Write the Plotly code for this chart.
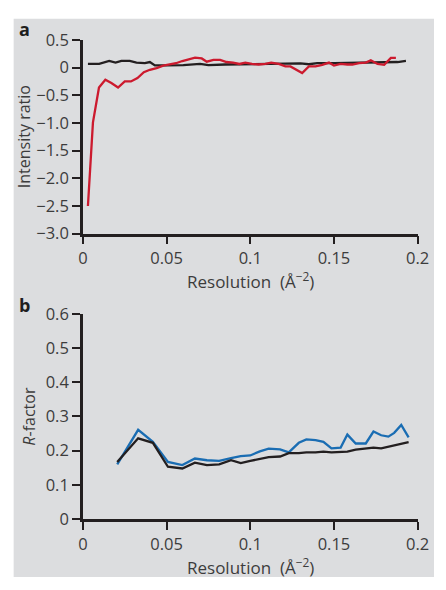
import plotly.graph_objects as go

# Panel a: intensity ratio
a_red_x = [0.003, 0.006, 0.0096, 0.0134, 0.017, 0.021, 0.025, 0.0287, 0.0326, 0.0364, 0.040, 0.044,
           0.048, 0.052, 0.0556, 0.0594, 0.063, 0.067, 0.071, 0.074, 0.078, 0.082, 0.0858, 0.0897,
           0.0935, 0.097, 0.101, 0.105, 0.109, 0.1125, 0.117, 0.121, 0.124, 0.127, 0.131, 0.135,
           0.139, 0.143, 0.147, 0.150, 0.154, 0.158, 0.161, 0.165, 0.169, 0.172, 0.176, 0.180,
           0.184, 0.187]
a_red_y = [-2.5, -0.99, -0.36, -0.22, -0.28, -0.36, -0.25, -0.25, -0.19, -0.085, -0.04, -0.01,
           0.036, 0.06, 0.078, 0.118, 0.15, 0.18, 0.165, 0.106, 0.14, 0.14, 0.10, 0.09,
           0.065, 0.09, 0.065, 0.055, 0.065, 0.09, 0.065, 0.02, 0.02, -0.025, -0.10, 0.02,
           0.02, 0.05, 0.09, 0.036, 0.065, 0.055, 0.055, 0.08, 0.09, 0.13, 0.065, 0.05,
           0.175, 0.175]
a_blk_x = [0.003, 0.0097, 0.0157, 0.0195, 0.023, 0.028, 0.032, 0.037, 0.040, 0.043, 0.050, 0.060,
           0.070, 0.075, 0.085, 0.095, 0.105, 0.110, 0.115, 0.125, 0.130, 0.135, 0.140, 0.150,
           0.160, 0.170, 0.180, 0.188, 0.193]
a_blk_y = [0.066, 0.066, 0.12, 0.09, 0.12, 0.12, 0.09, 0.08, 0.10, 0.04, 0.04, 0.045,
           0.065, 0.045, 0.055, 0.06, 0.065, 0.07, 0.08, 0.08, 0.075, 0.06, 0.08, 0.08,
           0.085, 0.085, 0.09, 0.10, 0.12]

# Panel b: R-factor
b_x = [0.0205, 0.033, 0.0418, 0.0508, 0.0594, 0.0669, 0.0741, 0.0814, 0.0885, 0.0943, 0.100,
       0.1057, 0.111, 0.1178, 0.123, 0.129, 0.1335, 0.139, 0.1437, 0.1485, 0.154, 0.158, 0.163,
       0.169, 0.1736, 0.1782, 0.1825, 0.186, 0.1902, 0.1946]
b_blue = [0.160, 0.261, 0.226, 0.167, 0.158, 0.177, 0.172, 0.170, 0.178, 0.184, 0.186,
          0.198, 0.206, 0.204, 0.195, 0.223, 0.233, 0.231, 0.226, 0.207, 0.209, 0.247, 0.221,
          0.221, 0.256, 0.245, 0.241, 0.252, 0.275, 0.239]
b_black = [0.167, 0.236, 0.223, 0.153, 0.148, 0.165, 0.158, 0.160, 0.172, 0.164, 0.170,
           0.176, 0.181, 0.183, 0.193, 0.193, 0.195, 0.195, 0.197, 0.195, 0.197, 0.197, 0.203,
           0.207, 0.209, 0.207, 0.212, 0.214, 0.219, 0.225]

x_ticks = [0, 0.05, 0.1, 0.15, 0.2]
x_tick_text = ["0", "0.05", "0.1", "0.15", "0.2"]
a_ticks = [0.5, 0, -0.5, -1.0, -1.5, -2.0, -2.5, -3.0]
a_tick_text = ["0.5", "0", "\u22120.5", "\u22121.0", "\u22121.5", "\u22122.0", "\u22122.5", "\u22123.0"]
b_ticks = [0, 0.1, 0.2, 0.3, 0.4, 0.5, 0.6]
b_tick_text = ["0", "0.1", "0.2", "0.3", "0.4", "0.5", "0.6"]

W, H = 446, 590
BG = "#dcdddf"
RED = "#cc1a2e"
BLUE = "#1a6db3"
BLK = "#231f20"
TXT = "#3c3c3c"
FONT = "Open Sans"

fig = go.Figure()
fig.add_trace(go.Scatter(x=a_blk_x, y=a_blk_y, mode="lines", line=dict(color=BLK, width=2.3),
                         xaxis="x", yaxis="y", showlegend=False, hoverinfo="skip"))
fig.add_trace(go.Scatter(x=a_red_x, y=a_red_y, mode="lines", line=dict(color=RED, width=2.3),
                         xaxis="x", yaxis="y", showlegend=False, hoverinfo="skip"))
fig.add_trace(go.Scatter(x=b_x, y=b_blue, mode="lines", line=dict(color=BLUE, width=2.3),
                         xaxis="x2", yaxis="y2", showlegend=False, hoverinfo="skip"))
fig.add_trace(go.Scatter(x=b_x, y=b_black, mode="lines", line=dict(color=BLK, width=2.3),
                         xaxis="x2", yaxis="y2", showlegend=False, hoverinfo="skip"))

xd = [81 / W, 429 / W]
ya = [1 - 230.7 / H, 1 - 29 / H]
yb = [1 - 527.7 / H, 1 - 314 / H]

axis_common = dict(showgrid=False, zeroline=False, showline=True, linecolor=BLK, linewidth=2.5,
                   ticks="outside", ticklen=8, tickwidth=1.5, tickcolor=BLK,
                   tickfont=dict(family=FONT, size=16.5, color=TXT))

fig.update_layout(
    width=W, height=H, margin=dict(l=0, r=0, t=0, b=0),
    paper_bgcolor="white", plot_bgcolor=BG,
    xaxis=dict(domain=xd, range=[0, 0.2], tickvals=x_ticks, ticktext=x_tick_text,
               anchor="y", **axis_common),
    yaxis=dict(domain=ya, range=[-3.0, 0.5], tickvals=a_ticks, ticktext=a_tick_text,
               anchor="x", **axis_common),
    xaxis2=dict(domain=xd, range=[0, 0.2], tickvals=x_ticks, ticktext=x_tick_text,
                anchor="y2", **axis_common),
    yaxis2=dict(domain=yb, range=[0, 0.6], tickvals=b_ticks, ticktext=b_tick_text,
                anchor="x2", **axis_common),
    shapes=[dict(type="rect", xref="paper", yref="paper", x0=9 / W, x1=1,
                 y0=1 - 588 / H, y1=1 - 7 / H, fillcolor=BG, line=dict(width=0), layer="below")],
)

def ann(text, px, py, size=16, angle=0, bold=False):
    fig.add_annotation(text=("<b>%s</b>" % text) if bold else text, xref="paper", yref="paper",
                       x=px / W, y=1 - py / H, showarrow=False, textangle=angle,
                       xanchor="center", yanchor="middle",
                       font=dict(family=FONT, size=size, color="#1e1e1e" if bold else TXT))

ann("a", 20, 18, size=18, bold=True)
ann("b", 20, 305, size=18, bold=True)
ann("Intensity ratio", 20, 130, size=16, angle=-90)
ann("<i>R</i>-factor", 25, 421, size=16, angle=-90)
ann("Resolution  (Å<sup>\u22122</sup>)", 255, 279, size=17)
ann("Resolution  (Å<sup>\u22122</sup>)", 255, 577, size=17)

fig.write_html("out.html", config={"displayModeBar": False},
               post_script="document.body.style.margin='0';document.body.style.overflow='hidden';")
